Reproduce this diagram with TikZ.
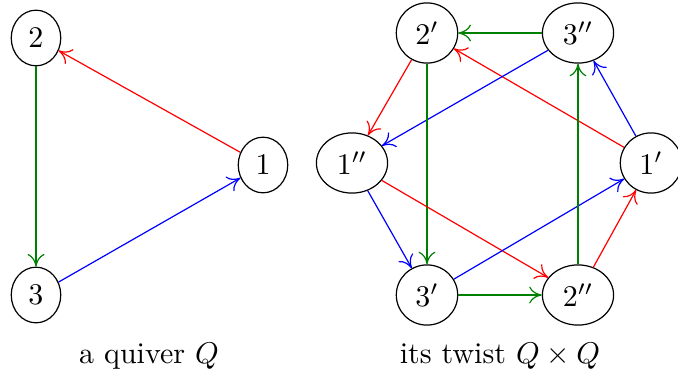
\documentclass[tikz,border=0pt]{standalone}
\usetikzlibrary{shapes.geometric,arrows.meta}
\begin{document}
\begin{tikzpicture}[x=0.3333pt,y=-0.3333pt,
  >={Computer Modern Rightarrow[length=4.2pt,width=5.6pt]},
  vtx/.style={draw,ellipse},
  r/.style={->,red},
  g/.style={->,green!50!black},
  b/.style={->,blue}]
\useasboundingbox (0,0) rectangle (678,375);
% left quiver
\node[vtx] (n2) at (36,38) {$2$};
\node[vtx] (n1) at (263,165) {$1$};
\node[vtx] (n3) at (36,295) {$3$};
\draw[r] (n1) -- (n2);
\draw[g] (n2) -- (n3);
\draw[b] (n3) -- (n1);
\node (lq) at (149,356) {a quiver $Q$};
% right twist
\node[vtx] (a2) at (427,33) {$2'$};
\node[vtx] (b3) at (578,33) {$3''$};
\node[vtx] (b1) at (352,163) {$1''$};
\node[vtx] (a1) at (651,163) {$1'$};
\node[vtx] (a3) at (427,295) {$3'$};
\node[vtx] (b2) at (578,295) {$2''$};
\draw[g] (b3) -- (a2);
\draw[r] (a1) -- (a2);
\draw[b] (b3) -- (b1);
\draw[r] (a2) -- (b1);
\draw[g] (a2) -- (a3);
\draw[b] (b1) -- (a3);
\draw[r] (b1) -- (b2);
\draw[g] (a3) -- (b2);
\draw[b] (a3) -- (a1);
\draw[r] (b2) -- (a1);
\draw[g] (b2) -- (b3);
\draw[b] (a1) -- (b3);
\node (lt) at (500,356) {its twist $Q\times Q$};
\end{tikzpicture}
\end{document}
